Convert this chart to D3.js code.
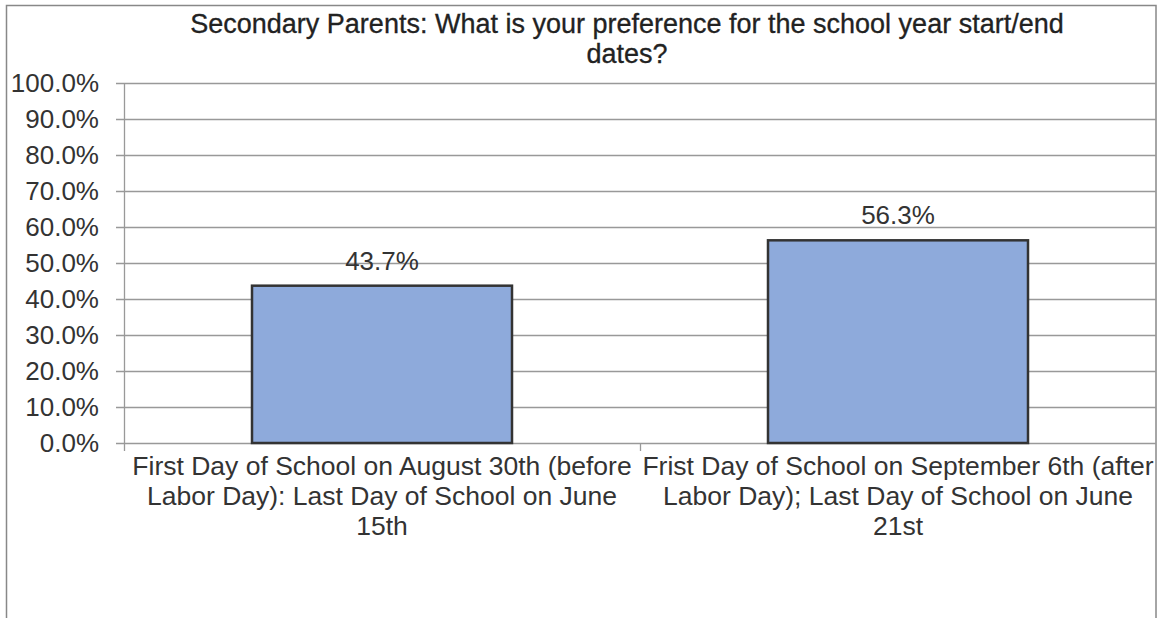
<!DOCTYPE html>
<html><head><meta charset="utf-8">
<script src="https://cdn.jsdelivr.net/npm/d3@7"></script>
<style>body{margin:0;background:#fff}svg{display:block}text{font-family:"Liberation Sans",Arial,sans-serif;fill:#333}</style>
</head><body><svg id="c" width="1158" height="618"></svg>
<script>
const title = ["Secondary Parents: What is your preference for the school year start/end", "dates?"];
const categories = [
  ["First Day of School on August 30th (before", "Labor Day): Last Day of School on June", "15th"],
  ["Frist Day of School on September 6th (after", "Labor Day); Last Day of School on June", "21st"]
];
const values = [43.7, 56.3];
const yTicks = [0,10,20,30,40,50,60,70,80,90,100];

const svg = d3.select("#c");
const m = {left:124, right:1156, top:83, bottom:443};

// outer border
svg.append("rect").attr("x",6.5).attr("y",5.5).attr("width",1149.5).attr("height",640)
  .attr("fill","none").attr("stroke","#888").attr("stroke-width",1.5);

const x = d3.scaleBand().domain(d3.range(values.length)).range([m.left, m.right]).paddingInner(0).paddingOuter(0);
const y = d3.scaleLinear().domain([0,100]).range([m.bottom, m.top]);

// gridlines
svg.append("g").selectAll("line").data(yTicks).join("line")
  .attr("x1", m.left-8).attr("x2", m.right)
  .attr("y1", d=>Math.round(y(d))+0.5).attr("y2", d=>Math.round(y(d))+0.5)
  .attr("stroke","#999").attr("stroke-width",1.3);

// y axis line
svg.append("line").attr("x1",m.left+0.5).attr("x2",m.left+0.5).attr("y1",m.top).attr("y2",m.bottom+8)
  .attr("stroke","#999").attr("stroke-width",1.3);
// category ticks
const catEdges = [m.left + x.bandwidth()];
svg.append("g").selectAll("line").data(catEdges).join("line")
  .attr("x1",d=>Math.round(d)+0.5).attr("x2",d=>Math.round(d)+0.5)
  .attr("y1",m.bottom).attr("y2",m.bottom+8).attr("stroke","#999").attr("stroke-width",1.3);

// y labels
svg.append("g").selectAll("text").data(yTicks).join("text")
  .attr("x", 99).attr("y", d=>y(d)+8.5).attr("text-anchor","end")
  .attr("font-size",26).text(d=>d.toFixed(1)+"%");

// bars
const bw = 260;
svg.append("g").selectAll("rect").data(values).join("rect")
  .attr("x",(d,i)=>x(i)+x.bandwidth()/2-bw/2).attr("width",bw)
  .attr("y",d=>y(d)).attr("height",d=>y(0)-y(d))
  .attr("fill","#8eaadb").attr("stroke","#333").attr("stroke-width",2.5);

// data labels
svg.append("g").selectAll("text").data(values).join("text")
  .attr("x",(d,i)=>x(i)+x.bandwidth()/2).attr("y",d=>y(d)-16)
  .attr("text-anchor","middle").attr("font-size",26).text(d=>d.toFixed(1)+"%");

// category labels
categories.forEach((lines,i)=>{
  const t = svg.append("text").attr("text-anchor","middle").attr("font-size",26.5);
  lines.forEach((l,j)=>{
    t.append("tspan").attr("x", x(i)+x.bandwidth()/2).attr("y", 475+j*30).text(l);
  });
});

// title
const tt = svg.append("text").attr("text-anchor","middle").attr("font-size",27)
  .style("fill","#222").attr("stroke","#222").attr("stroke-width",0.3);
title.forEach((l,j)=>tt.append("tspan").attr("x",627).attr("y",33+j*30).text(l));
</script></body></html>
